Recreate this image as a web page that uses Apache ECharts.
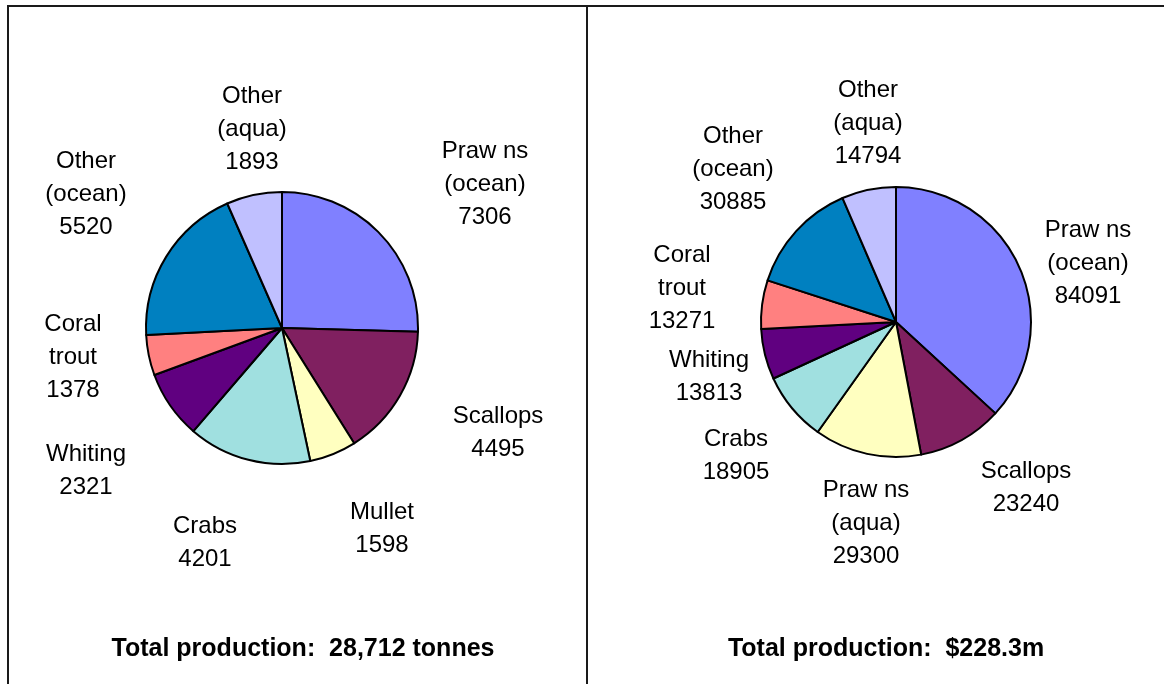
<!DOCTYPE html>
<html>
<head>
<meta charset="utf-8">
<script src="https://cdn.jsdelivr.net/npm/echarts@6/dist/echarts.min.js"></script>
<style>
  html, body { margin: 0; padding: 0; background: #fff; }
  #main { width: 1164px; height: 684px; }
</style>
</head>
<body>
<div id="main"></div>
<script>
// categories (same order for both pies, clockwise from 12 o'clock)
var tonnesNames = ['Praw ns\n(ocean)', 'Scallops', 'Mullet', 'Crabs', 'Whiting', 'Coral\ntrout', 'Other\n(ocean)', 'Other\n(aqua)'];
var tonnesValues = [7306, 4495, 1598, 4201, 2321, 1378, 5520, 1893];

var dollarNames = ['Praw ns\n(ocean)', 'Scallops', 'Praw ns\n(aqua)', 'Crabs', 'Whiting', 'Coral\ntrout', 'Other\n(ocean)', 'Other\n(aqua)'];
var dollarValues = [84091, 23240, 29300, 18905, 13813, 13271, 30885, 14794];

var tonnesColors = ['#8080ff', '#802060', '#ffffc0', '#a0e0e0', '#600080', '#ff8080', '#0080c0', '#c0c0ff'];
var dollarColors = ['#8080ff', '#802060', '#ffffc0', '#a0e0e0', '#600080', '#ff8080', '#0080c0', '#c0c0ff'];

var titles = ['Total production:  28,712 tonnes', 'Total production:  $228.3m'];

// label layout: offset of each label centre from its pie centre
var leftCenter = [282, 328];
var rightCenter = [896, 322];
var leftLabelOffsets = [[203, -144], [216, 105], [100, 201], [-77, 215], [-196, 143], [-209, 29], [-196, -134], [-30, -199]];
var rightLabelOffsets = [[192, -59], [130, 166], [-30, 201], [-160, 134], [-187, 55], [-214, -34], [-163, -153], [-28, -199]];

var fontName = 'Liberation Sans, Arial, sans-serif';

function toData(names, values, colors) {
  return names.map(function (n, i) {
    return { name: n, value: values[i], itemStyle: { color: colors[i] } };
  });
}

function pieSeries(center, radius, names, values, colors, offsets) {
  return {
    type: 'pie',
    center: center,
    radius: radius,
    startAngle: 90,
    clockwise: true,
    avoidLabelOverlap: false,
    silent: true,
    itemStyle: { borderColor: '#000', borderWidth: 2 },
    label: {
      show: true,
      position: 'outside',
      formatter: '{b}\n{c}',
      fontSize: 24,
      lineHeight: 33,
      color: '#000',
      fontFamily: fontName
    },
    labelLine: { show: false },
    labelLayout: function (params) {
      var off = offsets[params.dataIndex];
      return { x: center[0] + off[0], y: center[1] + off[1], align: 'center', verticalAlign: 'middle' };
    },
    emphasis: { disabled: true },
    data: toData(names, values, colors)
  };
}

var myChart = echarts.init(document.getElementById('main'));
myChart.setOption({
  animation: false,
  backgroundColor: '#fff',
  title: [
    {
      text: titles[0], left: 298, top: 632, textAlign: 'center',
      textStyle: { fontSize: 25, fontWeight: 'bold', color: '#000', fontFamily: fontName }
    },
    {
      text: titles[1], left: 881, top: 632, textAlign: 'center',
      textStyle: { fontSize: 25, fontWeight: 'bold', color: '#000', fontFamily: fontName }
    }
  ],
  graphic: [
    { type: 'line', shape: { x1: 7, y1: 6, x2: 1164, y2: 6 }, style: { stroke: '#1a1a1a', lineWidth: 2 } },
    { type: 'line', shape: { x1: 8, y1: 6, x2: 8, y2: 684 }, style: { stroke: '#1a1a1a', lineWidth: 2 } },
    { type: 'line', shape: { x1: 587, y1: 6, x2: 587, y2: 684 }, style: { stroke: '#1a1a1a', lineWidth: 2 } }
  ],
  series: [
    pieSeries(leftCenter, 136, tonnesNames, tonnesValues, tonnesColors, leftLabelOffsets),
    pieSeries(rightCenter, 135, dollarNames, dollarValues, dollarColors, rightLabelOffsets)
  ]
});
</script>
</body>
</html>
